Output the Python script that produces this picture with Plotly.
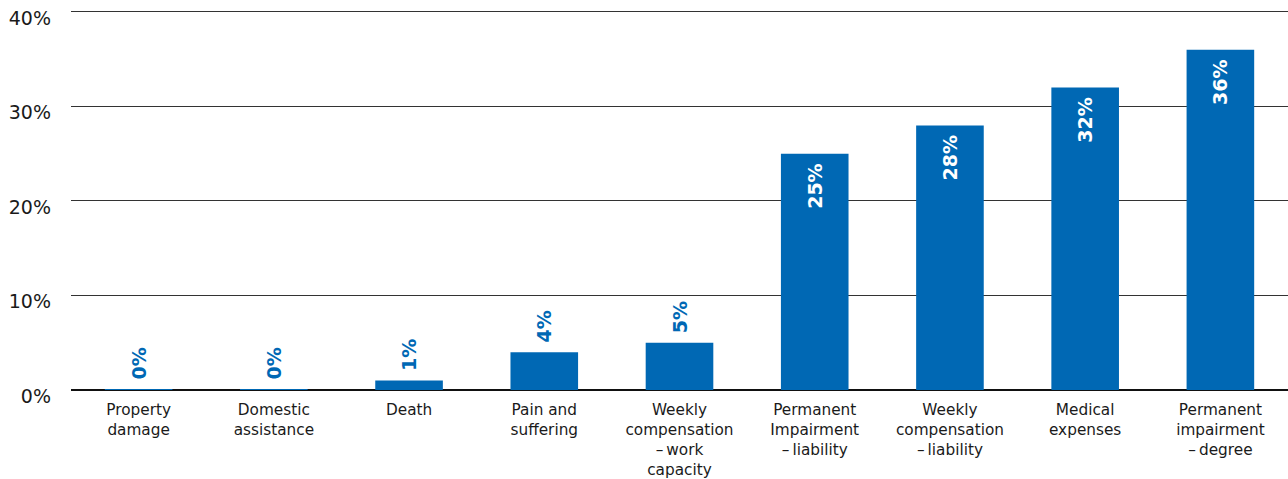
import plotly.graph_objects as go

categories = [
    "Property<br>damage",
    "Domestic<br>assistance",
    "Death",
    "Pain and<br>suffering",
    "Weekly<br>compensation<br>\u2013\u2009work<br>capacity",
    "Permanent<br>Impairment<br>\u2013\u2009liability",
    "Weekly<br>compensation<br>\u2013\u2009liability",
    "Medical<br>expenses",
    "Permanent<br>impairment<br>\u2013\u2009degree",
]
values = [0.1, 0.1, 1, 4, 5, 25, 28, 32, 36]
y_ticks = [0, 10, 20, 30, 40]
y_tick_labels = ["0%", "10%", "20%", "30%", "40%"]

BLUE = "#0068B4"
positions = ["inside" if v >= 10 else "outside" for v in values]

fig = go.Figure(
    go.Bar(
        x=categories,
        y=values,
        marker=dict(color=BLUE, line=dict(width=0)),
        texttemplate="\u00a0%{y:.0f}%\u00a0",
        textposition=positions,
        textangle=-90,
        insidetextanchor="end",
        insidetextfont=dict(color="white", size=19, family="DejaVu Sans", weight="bold"),
        outsidetextfont=dict(color=BLUE, size=19, family="DejaVu Sans", weight="bold"),
        constraintext="none",
        cliponaxis=False,
        hoverinfo="skip",
    )
)

fig.update_layout(
    width=1288,
    height=479,
    margin=dict(l=71, r=0, t=10, b=89),
    paper_bgcolor="white",
    plot_bgcolor="white",
    bargap=0.5,
    showlegend=False,
    font=dict(family="DejaVu Sans", color="#1a1a1a"),
)
fig.update_xaxes(
    showgrid=False,
    showline=False,
    ticks="",
    tickfont=dict(size=15.3, color="#1a1a1a"),
    tickangle=0,
    ticklabelstandoff=9,
    automargin=False,
)
fig.update_yaxes(
    range=[0, 40.21],
    tickvals=y_ticks,
    ticktext=y_tick_labels,
    showgrid=True,
    gridcolor="#333333",
    gridwidth=1,
    zeroline=True,
    zerolinecolor="#111111",
    zerolinewidth=1.5,
    tickfont=dict(size=19, color="#1a1a1a"),
    ticklabelstandoff=19,
    ticklabelshift=6,
    ticklabeloverflow="allow",
    showline=False,
    automargin=False,
)

fig.write_html("out.html")
